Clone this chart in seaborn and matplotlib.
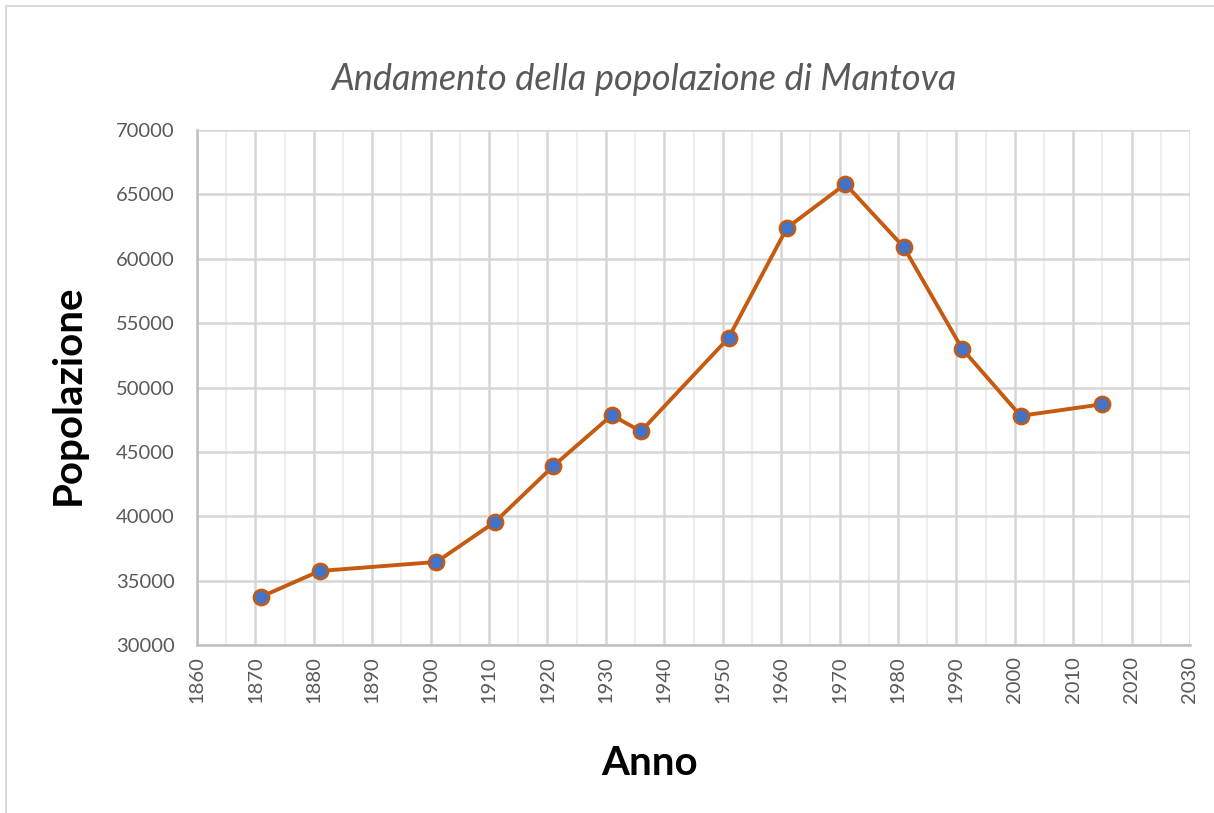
import matplotlib
matplotlib.use("Agg")
import matplotlib.pyplot as plt
import seaborn as sns
import pandas as pd
from matplotlib.ticker import MultipleLocator
from matplotlib.patches import Rectangle

# === Data ===
anni = [1871, 1881, 1901, 1911, 1921, 1931, 1936, 1951, 1961, 1971, 1981, 1991, 2001, 2015]
popolazione = [33750, 35750, 36450, 39550, 43900, 47850, 46600, 53850, 62400, 65800, 60900, 53000, 47800, 48700]

df = pd.DataFrame({"Anno": anni, "Popolazione": popolazione})

sns.set_style("white")
plt.rcParams['font.family'] = ['Lato', 'DejaVu Sans']

W, H = 1214, 813
fig = plt.figure(figsize=(W / 100, H / 100), dpi=100)
ax = fig.add_axes([197 / W, 1 - 645 / H, (1190 - 197) / W, (645 - 130) / H])

# outer chart frame
fig.patches.append(Rectangle((6 / W, -0.1), 1.2, (H - 6) / H + 0.1, transform=fig.transFigure,
                             fill=False, edgecolor="#d9d9d9", lw=1.5))

sns.lineplot(data=df, x="Anno", y="Popolazione", ax=ax, color="#C55A11", lw=2.8,
             marker="o", markersize=11, markerfacecolor="#4472C4",
             markeredgecolor="#C55A11", markeredgewidth=1.8, zorder=5)

ax.set_xlim(1860, 2030)
ax.set_ylim(30000, 70000)
ax.xaxis.set_major_locator(MultipleLocator(10))
ax.xaxis.set_minor_locator(MultipleLocator(5))
ax.yaxis.set_major_locator(MultipleLocator(5000))

ax.grid(which="major", color="#d6d6d6", lw=1.8)
ax.grid(which="minor", axis="x", color="#eeeeee", lw=1.5)
ax.set_axisbelow(True)

for side in ["top", "right"]:
    ax.spines[side].set_visible(False)
ax.spines["left"].set_color("#bfbfbf")
ax.spines["bottom"].set_color("#bfbfbf")
ax.spines["left"].set_linewidth(1.8)
ax.spines["bottom"].set_linewidth(1.8)

ax.tick_params(axis="both", which="both", length=0, colors="#595959", labelsize=14.5)
ax.tick_params(axis="x", rotation=90, pad=8)
ax.tick_params(axis="y", pad=16)

ax.set_xlabel("")
ax.set_ylabel("")

fig.text(644 / W, 1 - 80 / H, "Andamento della popolazione di Mantova", ha="center", va="center",
         fontsize=26, style="italic", color="#595959")
fig.text(68 / W, 1 - 395 / H, "Popolazione", ha="center", va="center", rotation=90,
         fontsize=29, fontweight="bold", color="black")
fig.text(650 / W, 1 - 763 / H, "Anno", ha="center", va="center",
         fontsize=29, fontweight="bold", color="black")

fig.savefig("out.png", dpi=100)
